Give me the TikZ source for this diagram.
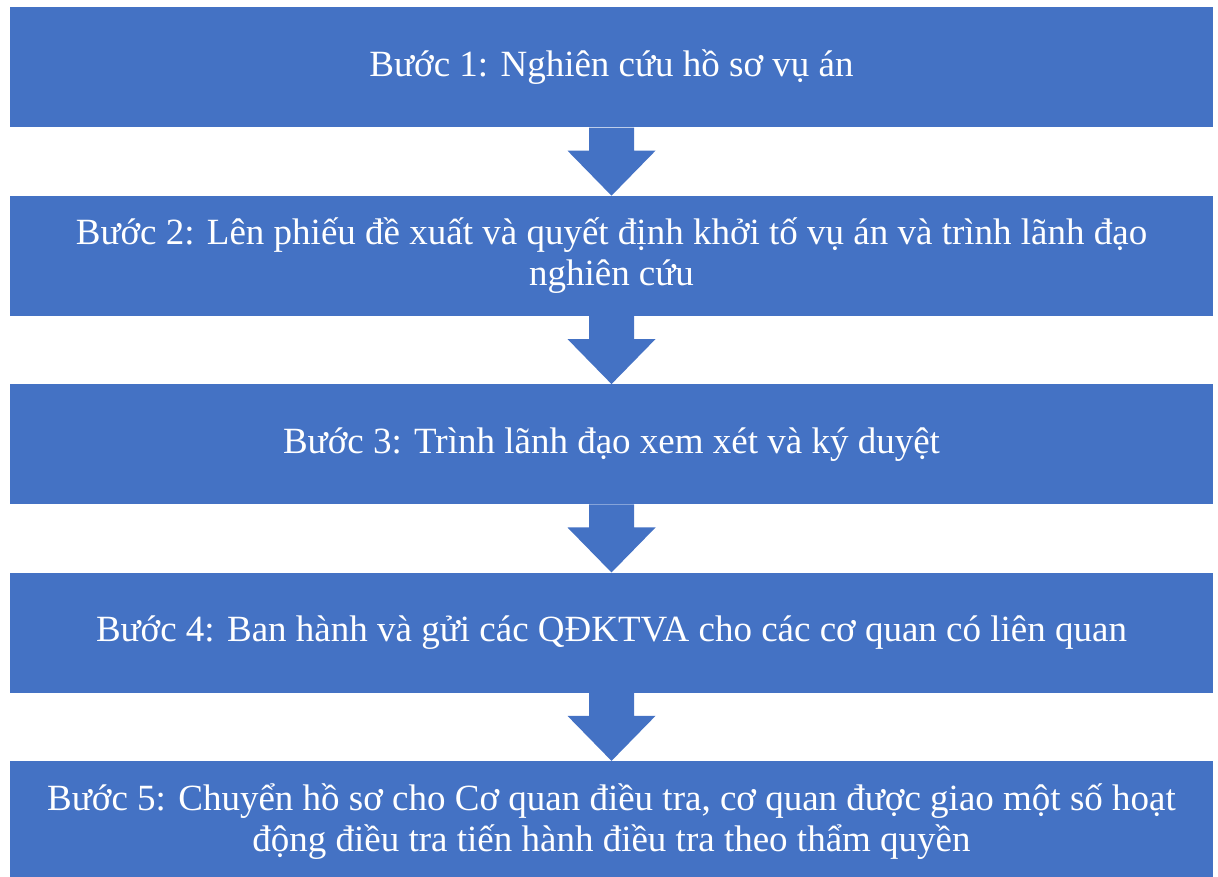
\documentclass[tikz,border=0pt]{standalone}
\usepackage{fontspec}
\setmainfont{Liberation Serif}
\usetikzlibrary{positioning}
\usetikzlibrary{calc}

\definecolor{boxblue}{HTML}{4472C4}

\begin{document}
\begin{tikzpicture}[ node distance = 68pt
                     , font = \fontsize{37}{41}\selectfont
                     , stepbox/.style = { rectangle
                                        , fill = boxblue
                                        , text = white
                                        , inner sep = 0pt
                                        , align = center
                                        , minimum width = 1203pt
                                        , minimum height = 120pt }
                     ]
  \useasboundingbox (0,0) rectangle (1218pt,876pt);
  \clip (0,0) rectangle (1218pt,876pt);

  %%
  %% Steps
  %%
  \node (step1) [stepbox] at (611.5pt,808.5pt) {Bước 1: Nghiên cứu hồ sơ vụ án};
  \node (step2) [stepbox, below = of step1]
        {Bước 2: Lên phiếu đề xuất và quyết định khởi tố vụ án và trình lãnh đạo\\
         nghiên cứu};
  \node (step3) [stepbox, below = of step2] {Bước 3: Trình lãnh đạo xem xét và ký duyệt};
  \node (step4) [stepbox, below = of step3]
        {Bước 4: Ban hành và gửi các QĐKTVA cho các cơ quan có liên quan};
  \node (step5) [stepbox, below = of step4]
        {Bước 5: Chuyển hồ sơ cho Cơ quan điều tra, cơ quan được giao một số hoạt\\
         động điều tra tiến hành điều tra theo thẩm quyền};

  %%
  %% Block arrows between the steps
  %%
  \foreach \from/\to in {step1/step2, step2/step3, step3/step4, step4/step5}
    \fill[boxblue] ($(\from.south)+(-22.5pt,0)$) -- ($(\from.south)+(22.5pt,0)$)
                -- ($(\from.south)+(22.5pt,-23pt)$) -- ($(\from.south)+(44pt,-23pt)$)
                -- (\to.north)
                -- ($(\from.south)+(-44pt,-23pt)$) -- ($(\from.south)+(-22.5pt,-23pt)$)
                -- cycle;
\end{tikzpicture}
\end{document}
